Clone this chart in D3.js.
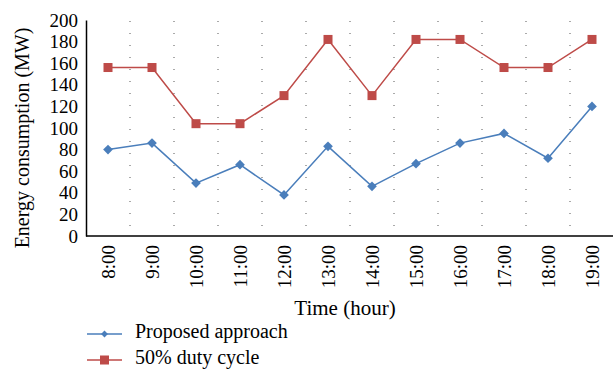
<!DOCTYPE html>
<html>
<head>
<meta charset="utf-8">
<script src="https://cdn.jsdelivr.net/npm/d3@7"></script>
<style>
  body { margin: 0; background: #fff; }
</style>
</head>
<body>
<div id="chart"></div>
<script>
// ---- data ----
const hours = ["8:00", "9:00", "10:00", "11:00", "12:00", "13:00", "14:00", "15:00", "16:00", "17:00", "18:00", "19:00"];
const proposed = [80, 86, 49, 66, 38, 83, 46, 67, 86, 95, 72, 120];
const dutyCycle = [156, 156, 104, 104, 130, 182, 130, 182, 182, 156, 156, 182];
const yTicks = [0, 20, 40, 60, 80, 100, 120, 140, 160, 180, 200];
const seriesNames = ["Proposed approach", "50% duty cycle"];

const W = 613, H = 371;
const plotL = 86, plotR = 614, plotT = 20, plotB = 236;
const FONT = "Liberation Serif";

const svg = d3.select("#chart").append("svg")
    .attr("width", W).attr("height", H)
    .attr("font-family", FONT);

const x = d3.scaleBand().domain(hours).range([plotL, plotR]);
const y = d3.scaleLinear().domain([0, 200]).range([plotB, plotT]);

// dotted vertical gridlines between categories
const dots = d3.range(plotT + 1, plotB - 4, 12);
hours.slice(1).forEach(h => {
    svg.append("g").selectAll("rect").data(dots).join("rect")
        .attr("x", x(h) - 0.5).attr("y", d => d)
        .attr("width", 1).attr("height", 1)
        .attr("fill", "#555");
});

// y axis
const yAxis = svg.append("g")
    .attr("transform", `translate(${plotL},0)`)
    .call(d3.axisLeft(y).tickValues(yTicks).tickSize(0).tickPadding(8));
yAxis.select(".domain").attr("stroke", "#000").attr("stroke-width", 1.5);
yAxis.selectAll("text").attr("font-size", 19).attr("fill", "#000")
    .attr("font-family", FONT);

// x axis
const xAxis = svg.append("g")
    .attr("transform", `translate(0,${plotB})`)
    .call(d3.axisBottom(x).tickSize(0).tickPadding(0));
xAxis.select(".domain").attr("d", `M${plotL},0H${W}`).attr("stroke", "#000").attr("stroke-width", 1.5);
xAxis.selectAll("text")
    .attr("font-size", 19).attr("fill", "#000").attr("font-family", FONT)
    .attr("transform", "rotate(-90)")
    .attr("text-anchor", "end")
    .attr("x", -9).attr("y", 0).attr("dy", "0.35em");

// axis titles
svg.append("text")
    .attr("transform", `translate(29,${(plotT + plotB) / 2 + 10}) rotate(-90)`)
    .attr("text-anchor", "middle")
    .attr("font-size", 20)
    .attr("font-family", FONT)
    .text("Energy consumption (MW)");

svg.append("text")
    .attr("x", 345).attr("y", 315)
    .attr("text-anchor", "middle")
    .attr("font-size", 21)
    .attr("font-family", FONT)
    .text("Time (hour)");

// series
const blue = "#4a7ebb", red = "#be4b48";
const line = d3.line().x((d, i) => x(hours[i]) + x.bandwidth() / 2).y(d => y(d));

svg.append("path").datum(proposed)
    .attr("d", line).attr("fill", "none").attr("stroke", blue).attr("stroke-width", 1.5);
svg.append("path").datum(dutyCycle)
    .attr("d", line).attr("fill", "none").attr("stroke", red).attr("stroke-width", 1.5);

const diamond = d3.symbol().type(d3.symbolDiamond2).size(60);
svg.append("g").selectAll("path").data(proposed).join("path")
    .attr("d", diamond)
    .attr("transform", (d, i) => `translate(${x(hours[i]) + x.bandwidth() / 2},${y(d)})`)
    .attr("fill", blue);

svg.append("g").selectAll("rect").data(dutyCycle).join("rect")
    .attr("x", (d, i) => x(hours[i]) + x.bandwidth() / 2 - 4.5)
    .attr("y", d => y(d) - 4.5)
    .attr("width", 9).attr("height", 9)
    .attr("fill", red);

// legend
const legend = svg.append("g");
const legY = [334, 360];
const legBase = [338, 364];
legY.forEach((ly, i) => {
    legend.append("line").attr("x1", 87).attr("x2", 122).attr("y1", ly).attr("y2", ly)
        .attr("stroke", i === 0 ? blue : red).attr("stroke-width", 1.5);
    if (i === 0) {
        legend.append("path").attr("d", d3.symbol().type(d3.symbolDiamond2).size(30))
            .attr("transform", `translate(104.5,${ly})`).attr("fill", blue);
    } else {
        legend.append("rect").attr("x", 100).attr("y", ly - 4.5).attr("width", 9).attr("height", 9)
            .attr("fill", red);
    }
    legend.append("text").attr("x", 135).attr("y", legBase[i])
        .attr("font-size", 20).attr("font-family", FONT).text(seriesNames[i]);
});
</script>
</body>
</html>
